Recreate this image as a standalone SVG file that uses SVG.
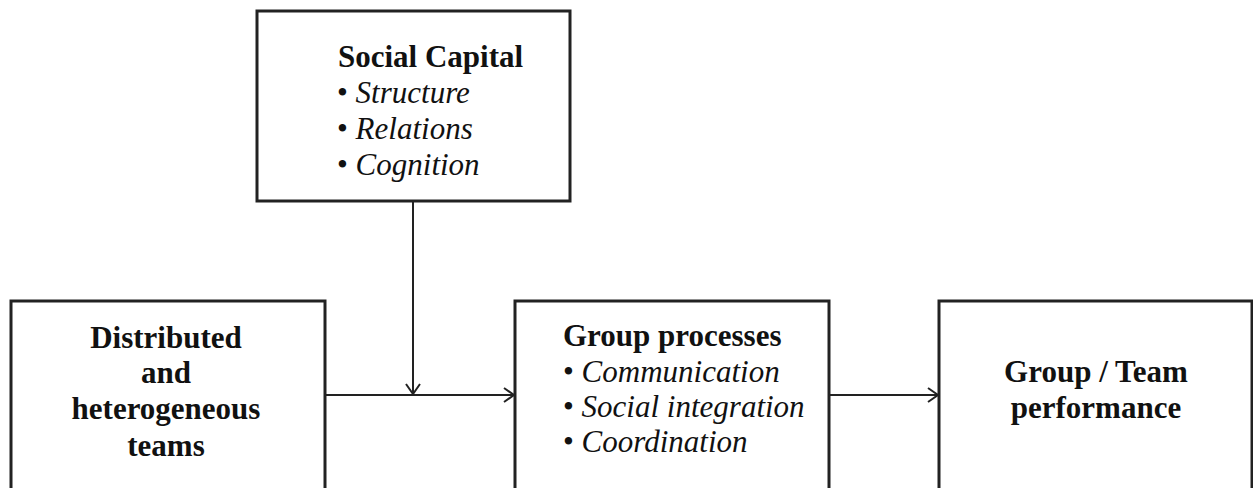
<svg xmlns="http://www.w3.org/2000/svg" width="1253" height="488" viewBox="0 0 1253 488">
<style>
.box{fill:#fff;stroke:#222;stroke-width:3}
.t{font-family:"Liberation Serif","Times New Roman",serif;font-size:31px;fill:#111}
.b{font-weight:bold}
.i{font-style:italic}
.c{text-anchor:middle}
.con{fill:none;stroke:#222;stroke-width:2}
</style>
<defs>
<marker id="arr" markerWidth="14" markerHeight="16" refX="12" refY="8" orient="auto" markerUnits="userSpaceOnUse">
<path d="M2,1 L12,8 L2,15" fill="none" stroke="#222" stroke-width="2"/>
</marker>
</defs>
<rect width="1253" height="488" fill="#fff"/>
<g id="social-capital">
<rect class="box" x="257" y="11" width="313" height="190"/>
<text class="t b" x="338" y="67">Social Capital</text>
<text class="t" x="337" y="103">• <tspan class="i">Structure</tspan></text>
<text class="t" x="337" y="139">• <tspan class="i">Relations</tspan></text>
<text class="t" x="337" y="175">• <tspan class="i">Cognition</tspan></text>
</g>
<g id="distributed-teams">
<rect class="box" x="11" y="301" width="314" height="190"/>
<text class="t b c" x="166" y="348">Distributed</text>
<text class="t b c" x="166" y="383">and</text>
<text class="t b c" x="166" y="419">heterogeneous</text>
<text class="t b c" x="166" y="456">teams</text>
</g>
<g id="group-processes">
<rect class="box" x="515" y="301" width="314" height="190"/>
<text class="t b" x="563" y="346">Group processes</text>
<text class="t" x="563" y="382">• <tspan class="i">Communication</tspan></text>
<text class="t" x="563" y="417">• <tspan class="i">Social integration</tspan></text>
<text class="t" x="563" y="452">• <tspan class="i">Coordination</tspan></text>
</g>
<g id="team-performance">
<rect class="box" x="939" y="301" width="313" height="190"/>
<text class="t b c" x="1096" y="382">Group / Team</text>
<text class="t b c" x="1096" y="418">performance</text>
</g>
<g id="connectors">
<path class="con" d="M325,395 L514,395" marker-end="url(#arr)"/>
<path class="con" d="M413,201 L413,394" marker-end="url(#arr)"/>
<path class="con" d="M829,395 L938,395" marker-end="url(#arr)"/>
</g>
</svg>
